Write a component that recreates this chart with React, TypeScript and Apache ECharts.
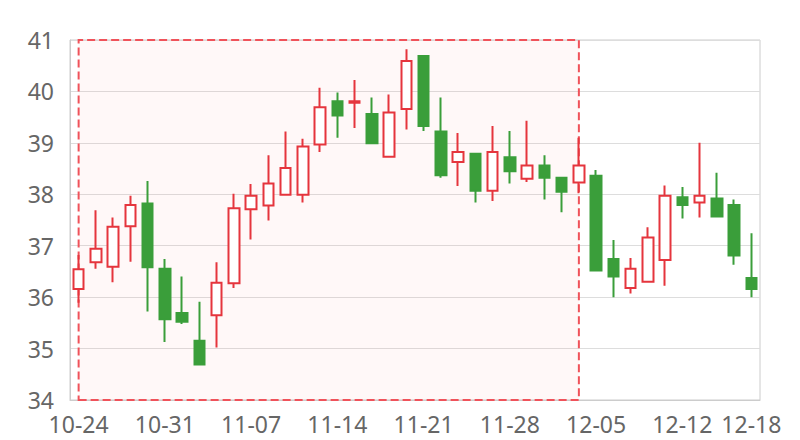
import React, { useEffect, useRef } from "react";
import * as echarts from "echarts";

const dates = [
  "10-24", "10-25", "10-26", "10-27", "10-28",
  "10-31", "11-01", "11-02", "11-03", "11-04",
  "11-07", "11-08", "11-09", "11-10", "11-11",
  "11-14", "11-15", "11-16", "11-17", "11-18",
  "11-21", "11-22", "11-23", "11-24", "11-25",
  "11-28", "11-29", "11-30", "12-01", "12-02",
  "12-05", "12-06", "12-07", "12-08", "12-09",
  "12-12", "12-13", "12-14", "12-15", "12-18",
];

const opens = [
  36.16, 36.68, 36.59, 37.38, 37.82, 36.55, 35.69, 35.15, 35.65, 36.27,
  37.71, 37.78, 37.99, 37.99, 38.97, 39.81, 39.78, 39.56, 38.73, 39.66,
  40.69, 39.22, 38.63, 38.79, 38.07, 38.72, 38.3, 38.56, 38.32, 38.23,
  38.36, 36.74, 36.18, 36.3, 36.72, 37.94, 37.84, 37.92, 37.79, 36.37,
];
const closes = [
  36.54, 36.94, 37.37, 37.79, 36.58, 35.57, 35.52, 34.69, 36.28, 37.73,
  37.97, 38.21, 38.51, 38.93, 39.69, 39.53, 39.81, 38.99, 39.59, 40.59,
  39.33, 38.37, 38.82, 38.07, 38.82, 38.45, 38.56, 38.32, 38.05, 38.56,
  36.52, 36.4, 36.55, 37.16, 37.97, 37.79, 37.97, 37.57, 36.81, 36.16,
];
const lows = [
  35.89, 36.55, 36.29, 36.69, 35.72, 35.13, 35.48, 34.69, 35.02, 36.18,
  37.12, 37.49, 37.98, 37.84, 38.82, 39.1, 39.29, 38.99, 38.73, 39.26,
  39.23, 38.32, 38.16, 37.84, 37.87, 38.21, 38.24, 37.9, 37.65, 38.02,
  36.52, 36.0, 36.07, 36.3, 36.22, 37.53, 37.55, 37.57, 36.63, 36.0,
];
const highs = [
  36.82, 37.69, 37.55, 37.97, 38.26, 36.74, 36.4, 35.91, 36.68, 38.01,
  38.2, 38.76, 39.22, 39.08, 40.07, 39.98, 40.22, 39.88, 39.94, 40.82,
  40.7, 39.88, 39.19, 38.8, 39.33, 39.23, 39.43, 38.76, 38.32, 39.1,
  38.47, 37.11, 36.76, 37.36, 38.17, 38.14, 39.0, 38.42, 37.9, 37.24,
];

const areaStart = "10-24";
const areaEnd = "12-02";

const yMin = 34;
const yMax = 41;
const yStep = 1;

export default function App() {
  const ref = useRef<HTMLDivElement>(null);
  useEffect(() => {
    document.body.style.margin = "0";
    if (!ref.current) return;
    const chart = echarts.init(ref.current, undefined, { renderer: "svg" });
    const data = dates.map((_, i) => [opens[i], closes[i], lows[i], highs[i]]);
    const font = "Noto Sans";
    chart.setOption({
      animation: false,
      grid: {
        left: 70,
        right: 40,
        top: 40,
        bottom: 40,
        show: true,
        borderColor: "#ccc",
        borderWidth: 1,
      },
      xAxis: {
        type: "category",
        data: dates,
        boundaryGap: true,
        axisLine: { lineStyle: { color: "#ccc" } },
        axisTick: { show: false },
        axisLabel: {
          color: "#666",
          fontSize: 23,
          fontFamily: font,
          margin: 12,
          interval: (i: number) => i % 5 === 0 || i === dates.length - 1,
        },
        splitLine: { show: false },
      },
      yAxis: {
        type: "value",
        min: yMin,
        max: yMax,
        interval: yStep,
        axisLine: { show: true, lineStyle: { color: "#ccc" } },
        axisTick: { show: false },
        axisLabel: {
          color: "#666",
          fontSize: 23,
          fontFamily: font,
          margin: 16,
        },
        splitLine: { lineStyle: { color: "#ddd" } },
      },
      series: [
        {
          type: "candlestick",
          data,
          barWidth: "64%",
          itemStyle: {
            color: "#ffffff",
            color0: "#3a9e3a",
            borderColor: "#e5353d",
            borderColor0: "#3a9e3a",
            borderWidth: 2,
          },
          markArea: {
            silent: true,
            itemStyle: {
              color: "rgba(255, 60, 60, 0.035)",
              borderColor: "#f0525a",
              borderWidth: 2,
              borderType: "dashed",
            },
            data: [[{ xAxis: areaStart }, { xAxis: areaEnd }]],
          },
        },
      ],
    });
    return () => chart.dispose();
  }, []);
  return <div ref={ref} style={{ width: 800, height: 440 }} />;
}
